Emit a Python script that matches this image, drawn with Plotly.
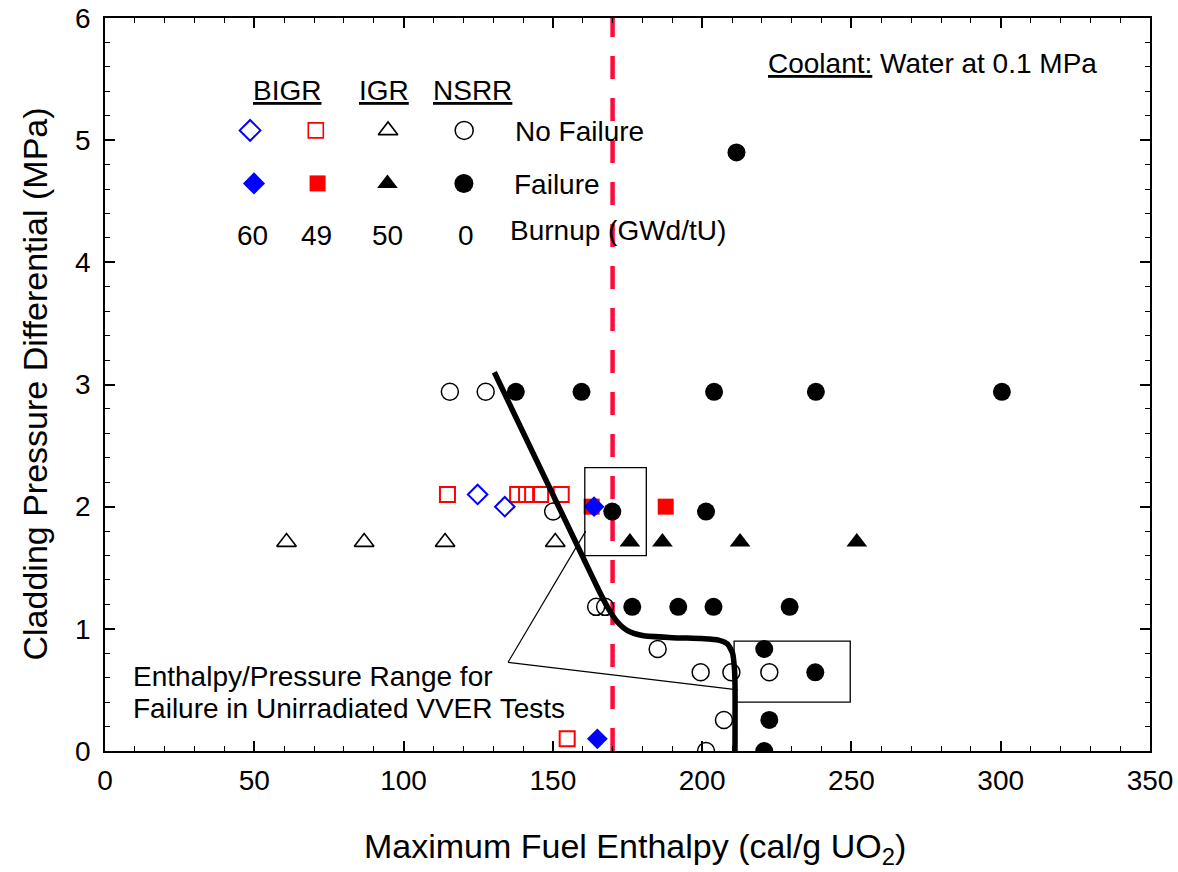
import plotly.graph_objects as go

# ---------------- data ----------------
# BIGR, burnup 60 GWd/tU (blue diamonds)
bigr60_nofail_x = [124.8, 133.9]
bigr60_nofail_y = [2.10, 2.00]
bigr60_fail_x = [163.8, 164.9]
bigr60_fail_y = [2.00, 0.10]
# BIGR, burnup 49 GWd/tU (red squares)
bigr49_nofail_x = [114.7, 138.2, 141.2, 145.9, 152.8, 154.8]
bigr49_nofail_y = [2.10, 2.10, 2.10, 2.10, 2.10, 0.10]
bigr49_fail_x = [163.0, 187.8]
bigr49_fail_y = [2.00, 2.00]
# IGR, burnup 50 GWd/tU (triangles)
igr_nofail_x = [60.8, 86.8, 113.9, 150.8]
igr_nofail_y = [1.71, 1.71, 1.71, 1.71]
igr_fail_x = [175.8, 186.7, 212.7, 251.8]
igr_fail_y = [1.71, 1.71, 1.71, 1.71]
# NSRR, burnup 0 (circles)
nsrr_nofail_x = [115.5, 127.5, 150.1, 164.5, 167.5, 185.1, 199.5, 209.8, 222.5, 207.3, 201.3]
nsrr_nofail_y = [2.94, 2.94, 1.96, 1.18, 1.18, 0.835, 0.644, 0.644, 0.644, 0.254, 0.0]
nsrr_fail_x = [137.6, 159.6, 204.0, 238.1, 300.4, 211.5, 169.9, 201.3, 176.6, 192.0,
               203.8, 229.3, 220.8, 237.9, 222.5, 220.8]
nsrr_fail_y = [2.94, 2.94, 2.94, 2.94, 2.94, 4.90, 1.96, 1.96, 1.18, 1.18,
               1.18, 1.18, 0.835, 0.644, 0.254, 0.0]

# failure boundary curve
curve_x = [130.4, 160.0, 165.5, 168.5, 171.5, 175.0, 180.0, 190.0, 200.0, 205.5, 208.5, 210.2, 210.8, 211.0, 211.0]
curve_y = [3.10, 1.59, 1.31, 1.17, 1.06, 0.985, 0.945, 0.928, 0.920, 0.908, 0.875, 0.80, 0.68, 0.55, 0.0]

# enthalpy limit (dashed line)
limit_x = [170.0, 170.0]
limit_y = [0.0, 6.0]

# unirradiated VVER failure ranges (boxes)
box1 = dict(x0=160.7, x1=181.3, y0=1.60, y1=2.32)
box2 = dict(x0=210.7, x1=249.6, y0=0.40, y1=0.90)

FONT = "Liberation Sans, Arial, sans-serif"
BLUE = "#0000FF"
RED = "#FF0000"

fig = go.Figure()

fig.add_trace(go.Scatter(x=limit_x, y=limit_y, mode="lines",
                         line=dict(color="#FF0A3C", width=4.5, dash="23px,19px"),
                         hoverinfo="skip"))


def add_markers(x, y, symbol, size, color, filled, lw=1.6):
    if filled:
        marker = dict(symbol=symbol, size=size, color=color, line=dict(width=0, color=color))
    else:
        marker = dict(symbol=symbol + "-open", size=size, color=color, line=dict(width=lw, color=color))
    fig.add_trace(go.Scatter(x=x, y=y, mode="markers", marker=marker))


add_markers(igr_nofail_x, igr_nofail_y, "triangle-up", 17, "black", False, 1.6)
add_markers(igr_fail_x, igr_fail_y, "triangle-up", 18, "black", True)
add_markers(nsrr_nofail_x, nsrr_nofail_y, "circle", 17, "black", False, 1.5)
add_markers(nsrr_fail_x, nsrr_fail_y, "circle", 18, "black", True)
add_markers(bigr49_nofail_x, bigr49_nofail_y, "square", 15, RED, False, 2)
add_markers(bigr49_fail_x, bigr49_fail_y, "square", 16, RED, True)
add_markers(bigr60_nofail_x, bigr60_nofail_y, "diamond", 15, BLUE, False, 2)
add_markers(bigr60_fail_x, bigr60_fail_y, "diamond", 16, BLUE, True)

fig.add_trace(go.Scatter(x=curve_x, y=curve_y, mode="lines",
                         line=dict(color="black", width=5.5, shape="spline", smoothing=0.6),
                         hoverinfo="skip"))

# ---- custom legend ----
leg_row1_y = 5.08
leg_row2_y = 4.646
leg_cols_open = [48.6, 70.6, 94.8, 120.3]
leg_cols_fill = [49.9, 71.2, 94.6, 120.2]
fig.add_trace(go.Scatter(x=[leg_cols_open[0]], y=[leg_row1_y], mode="markers",
                         marker=dict(symbol="diamond-open", size=16, color=BLUE, line=dict(width=2, color=BLUE))))
fig.add_trace(go.Scatter(x=[leg_cols_open[1]], y=[leg_row1_y], mode="markers",
                         marker=dict(symbol="square-open", size=15, color=RED, line=dict(width=1.6, color=RED))))
fig.add_trace(go.Scatter(x=[leg_cols_open[2]], y=[leg_row1_y], mode="markers",
                         marker=dict(symbol="triangle-up-open", size=17, color="black", line=dict(width=1.6, color="black"))))
fig.add_trace(go.Scatter(x=[leg_cols_open[3]], y=[leg_row1_y], mode="markers",
                         marker=dict(symbol="circle-open", size=18, color="black", line=dict(width=1.5, color="black"))))
fig.add_trace(go.Scatter(x=[leg_cols_fill[0]], y=[leg_row2_y], mode="markers",
                         marker=dict(symbol="diamond", size=17, color=BLUE)))
fig.add_trace(go.Scatter(x=[leg_cols_fill[1]], y=[leg_row2_y], mode="markers",
                         marker=dict(symbol="square", size=16, color=RED)))
fig.add_trace(go.Scatter(x=[leg_cols_fill[2]], y=[leg_row2_y], mode="markers",
                         marker=dict(symbol="triangle-up", size=18, color="black")))
fig.add_trace(go.Scatter(x=[leg_cols_fill[3]], y=[leg_row2_y], mode="markers",
                         marker=dict(symbol="circle", size=19, color="black")))

annotations = []


def ann(x, y, text, size=28, xanchor="center", xref="x", yref="y", **kw):
    annotations.append(dict(x=x, y=y, xref=xref, yref=yref, text=text, showarrow=False,
                            xanchor=xanchor, yanchor="middle",
                            font=dict(family=FONT, size=size, color="black"), **kw))


ann(60.85, 5.41, "<u>BIGR</u>")
ann(93.4, 5.41, "<u>IGR</u>")
ann(123.2, 5.41, "<u>NSRR</u>")
ann(136.5, 5.07, "No Failure", xanchor="left")
ann(136.2, 4.64, "Failure", xanchor="left")
ann(49.5, 4.22, "60")
ann(70.7, 4.22, "49")
ann(94.6, 4.22, "50")
ann(120.8, 4.22, "0")
ann(134.9, 4.26, "Burnup (GWd/tU)", xanchor="left")
ann(277.3, 5.63, "<u>Coolant:</u> Water at 0.1 MPa")
ann(8.6, 0.608, "Enthalpy/Pressure Range for", xanchor="left")
ann(8.6, 0.350, "Failure in Unirradiated VVER Tests", xanchor="left")

# axis titles
ann(0.507, 0, "Maximum Fuel Enthalpy (cal/g UO<sub>2</sub>)", size=34, xref="paper", yref="paper", yshift=-97)
ann(0, 0.5, "Cladding Pressure Differential (MPa)", size=34, xref="paper", yref="paper",
    xshift=-71, textangle=-90)

shapes = [
    dict(type="rect", xref="x", yref="y", line=dict(color="black", width=1.3), **box1),
    dict(type="rect", xref="x", yref="y", line=dict(color="black", width=1.3), **box2),
    dict(type="line", xref="x", yref="y", x0=135.0, y0=0.726, x1=161.0, y1=1.80,
         line=dict(color="black", width=1.2)),
    dict(type="line", xref="x", yref="y", x0=135.0, y0=0.726, x1=212.0, y1=0.50,
         line=dict(color="black", width=1.2)),
]

axis_common = dict(showgrid=False, zeroline=False, showline=True, linecolor="black", linewidth=1.5,
                   ticks="inside", ticklen=10, tickwidth=1.5, tickcolor="black", mirror="allticks",
                   automargin=False,
                   tickfont=dict(family=FONT, size=28, color="black"))

fig.update_layout(
    width=1178, height=872,
    margin=dict(l=105, r=28, t=18, b=121),
    paper_bgcolor="white", plot_bgcolor="white",
    showlegend=False,
    annotations=annotations,
    shapes=shapes,
    xaxis=dict(range=[0, 350], dtick=50, tick0=0, ticklabelstandoff=4,
               minor=dict(ticks="inside", ticklen=5, dtick=10, tickwidth=1.3, tickcolor="black"),
               **axis_common),
    yaxis=dict(range=[0, 6], dtick=1, tick0=0, ticklabelstandoff=7,
               minor=dict(ticks="inside", ticklen=5, dtick=0.2, tickwidth=1.3, tickcolor="black"),
               **axis_common),
)

fig.write_html("out.html")
